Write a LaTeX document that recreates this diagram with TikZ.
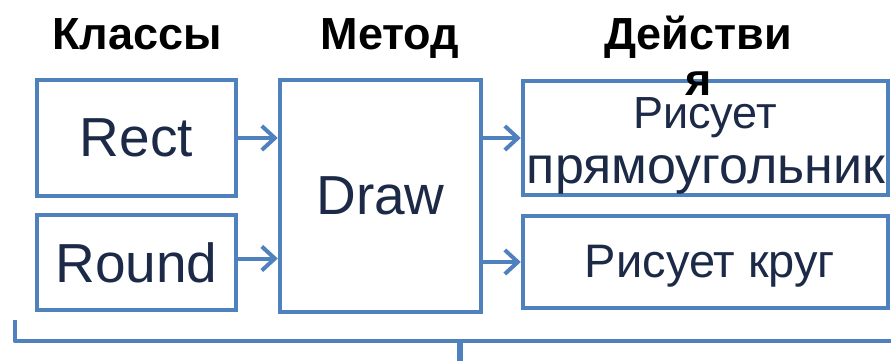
\documentclass[tikz,border=0pt]{standalone}
\usepackage{fontspec}
\setmainfont{Liberation Sans}
\usetikzlibrary{arrows.meta}
\definecolor{boxblue}{RGB}{79,129,189}
\definecolor{boxtext}{RGB}{28,42,72}
\tikzset{
  box/.style={draw=boxblue, line width=4.5pt, inner sep=0pt, text=boxtext, align=center},
  boxlabel/.style={inner sep=0pt, text=boxtext, anchor=base},
  head/.style={font=\bfseries\fontsize{45}{47}\selectfont, text=black, inner sep=0pt, anchor=base},
  conn/.style={draw=boxblue, line width=4pt, -{Straight Barb[length=13pt,width=24pt,line width=4pt]}},
  brace/.style={draw=boxblue, line width=4.5pt}
}
\begin{document}
\begin{tikzpicture}[x=1pt,y=-1pt]
\useasboundingbox (0,0) rectangle (891,361);
\fill[white] (0,0) rectangle (891,361);
% boxes
\node[box, minimum width=199pt, minimum height=116pt, font=\fontsize{55}{60}\selectfont] (rect) at (136.5,138) {Rect};
\node[box, minimum width=199pt, minimum height=95pt, font=\fontsize{55}{60}\selectfont] (round) at (136.5,262.5) {Round};
\node[box, minimum width=201pt, minimum height=232pt, font=\fontsize{55}{60}\selectfont] (drawm) at (380.5,196) {Draw};
\node[box, minimum width=365pt, minimum height=114pt] (act1) at (705.5,138) {};
\node[box, minimum width=365pt, minimum height=92pt] (act2) at (705.5,262) {};
\node[boxlabel, font=\fontsize{45}{50}\selectfont] (act1a) at (705,128.5) {Рисует};
\node[boxlabel, font=\fontsize{52}{56}\selectfont] (act1b) at (706,183) {прямоугольник};
\node[boxlabel, font=\fontsize{47}{50}\selectfont] (act2a) at (710,277) {Рисует круг};
% headings
\node[head] (hclass) at (137,50) {Классы};
\node[head] (hmeth) at (390,50) {Метод};
\node[head] (hact) at (698,50) {Действи};
\node[head] (hya) at (699,95.5) {я};
% connectors
\draw[conn] (rect.east) -- (rect.east -| drawm.west);
\draw[conn] ([yshift=4pt]round.east) -- ([yshift=4pt]round.east -| drawm.west);
\draw[conn] (drawm.east |- act1.west) -- (act1.west);
\draw[conn] (drawm.east |- act2.west) -- (act2.west);
% bracket
\coordinate (bl) at (15,320);
\coordinate (blc) at (15,341);
\coordinate (br) at (891,341);
\coordinate (bm) at (460,341);
\coordinate (bs) at (460,361);
\draw[brace, line join=round] (bl) -- (blc) -- (br);
\draw[brace, line width=6.5pt] (bm) -- (bs);
\end{tikzpicture}
\end{document}
